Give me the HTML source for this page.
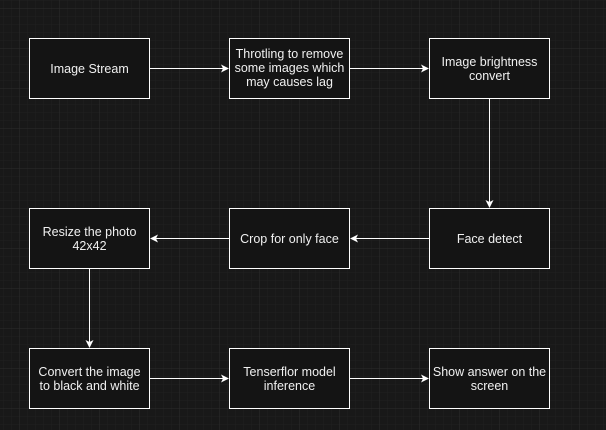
<!DOCTYPE html>
<html><head><meta charset="utf-8"><style>
html,body{margin:0;padding:0;background:#181818;}
svg{display:block;}
text{font-family:"Liberation Sans",sans-serif;font-size:12.5px;fill:#f0f0f0;text-anchor:middle;}
</style></head><body>
<svg width="606" height="430" viewBox="0 0 606 430" xmlns="http://www.w3.org/2000/svg">
<defs>
<pattern id="minor" x="3.5" y="0.5" width="8" height="8" patternUnits="userSpaceOnUse">
<path d="M8 0V8M0 8H8" stroke="#202020" stroke-width="1" fill="none"/>
</pattern>
<pattern id="major" x="-20.5" y="-31.5" width="40" height="40" patternUnits="userSpaceOnUse">
<path d="M40 0V40M0 40H40" stroke="#2c2c2c" stroke-width="1" fill="none"/>
</pattern>
</defs>
<rect width="606" height="430" fill="#181818"/>
<rect width="606" height="430" fill="url(#minor)"/>
<rect width="606" height="430" fill="url(#major)"/>
<g fill="#141414" stroke="#ffffff" stroke-width="1">
<rect x="29.5" y="38.5" width="120" height="60"/>
<rect x="229.5" y="38.5" width="120" height="60"/>
<rect x="429.5" y="38.5" width="120" height="60"/>
<rect x="29.5" y="208.5" width="120" height="60"/>
<rect x="229.5" y="208.5" width="120" height="60"/>
<rect x="429.5" y="208.5" width="120" height="60"/>
<rect x="29.5" y="348.5" width="120" height="60"/>
<rect x="229.5" y="348.5" width="120" height="60"/>
<rect x="429.5" y="348.5" width="120" height="60"/>
</g>
<g stroke="#ffffff" stroke-width="1" fill="none">
<path d="M150 68.5H223"/>
<path d="M350 68.5H423"/>
<path d="M489.5 99V202"/>
<path d="M429 238.5H356"/>
<path d="M229 238.5H156"/>
<path d="M89.5 269V342"/>
<path d="M150 378.5H223"/>
<path d="M350 378.5H423"/>
</g>
<g fill="#ffffff">
<path d="M229 68.5L221 64.5L223 68.5L221 72.5Z"/>
<path d="M429 68.5L421 64.5L423 68.5L421 72.5Z"/>
<path d="M489.5 208L485.5 200L489.5 202L493.5 200Z"/>
<path d="M350 238.5L358 234.5L356 238.5L358 242.5Z"/>
<path d="M150 238.5L158 234.5L156 238.5L158 242.5Z"/>
<path d="M89.5 348L85.5 340L89.5 342L93.5 340Z"/>
<path d="M229 378.5L221 374.5L223 378.5L221 382.5Z"/>
<path d="M429 378.5L421 374.5L423 378.5L421 382.5Z"/>
</g>
<text x="89.5" y="73">Image Stream</text>
<text x="289.5" y="58">Throtling to remove</text>
<text x="289.5" y="72">some images which</text>
<text x="289.5" y="86">may causes lag</text>
<text x="489.5" y="66">Image brightness</text>
<text x="489.5" y="80">convert</text>
<text x="489.5" y="243">Face detect</text>
<text x="289.5" y="243">Crop for only face</text>
<text x="89.5" y="236">Resize the photo</text>
<text x="89.5" y="250">42x42</text>
<text x="89.5" y="376">Convert the image</text>
<text x="89.5" y="390">to black and white</text>
<text x="289.5" y="376">Tenserflor model</text>
<text x="289.5" y="390">inference</text>
<text x="489.5" y="376">Show answer on the</text>
<text x="489.5" y="390">screen</text>
</svg>
</body></html>
